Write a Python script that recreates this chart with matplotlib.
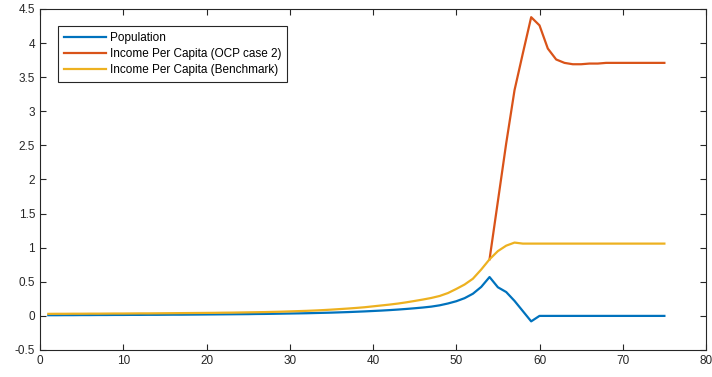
import numpy as np
import matplotlib.pyplot as plt

plt.rcParams['font.family'] = ['Liberation Sans', 'DejaVu Sans']

periods = np.arange(1, 76)

population = [
    0.010, 0.010, 0.011, 0.011, 0.012, 0.012, 0.013, 0.013, 0.014, 0.014,
    0.015, 0.015, 0.016, 0.016, 0.017, 0.018, 0.018, 0.019, 0.020, 0.021,
    0.022, 0.023, 0.024, 0.025, 0.026, 0.028, 0.029, 0.031, 0.033, 0.035,
    0.037, 0.039, 0.042, 0.045, 0.048, 0.052, 0.056, 0.061, 0.066, 0.072,
    0.078, 0.085, 0.093, 0.102, 0.112, 0.123, 0.136, 0.155, 0.182, 0.215,
    0.260, 0.325, 0.425, 0.570, 0.420, 0.350, 0.220, 0.070, -0.080, 0.000,
    0.000, 0.000, 0.000, 0.000, 0.000, 0.000, 0.000, 0.000, 0.000, 0.000,
    0.000, 0.000, 0.000, 0.000, 0.000,
]

# OCP case only departs from the benchmark from period 54 on
ocp_periods = np.arange(54, 76)
income_ocp = [
    0.83, 1.68, 2.53, 3.31, 3.85, 4.38, 4.26, 3.92, 3.76, 3.71,
    3.69, 3.69, 3.70, 3.70, 3.71, 3.71, 3.71, 3.71, 3.71, 3.71,
    3.71, 3.71,
]

income_bench = [
    0.030, 0.031, 0.031, 0.032, 0.032, 0.033, 0.033, 0.034, 0.035, 0.035,
    0.036, 0.037, 0.037, 0.038, 0.039, 0.040, 0.041, 0.042, 0.043, 0.044,
    0.045, 0.047, 0.048, 0.050, 0.052, 0.054, 0.056, 0.059, 0.062, 0.066,
    0.070, 0.074, 0.079, 0.085, 0.092, 0.100, 0.108, 0.117, 0.127, 0.140,
    0.153, 0.166, 0.181, 0.199, 0.219, 0.240, 0.263, 0.292, 0.335, 0.395,
    0.460, 0.545, 0.680, 0.830, 0.950, 1.030, 1.075, 1.060, 1.060, 1.060,
    1.060, 1.060, 1.060, 1.060, 1.060, 1.060, 1.060, 1.060, 1.060, 1.060,
    1.060, 1.060, 1.060, 1.060, 1.060,
]

fig = plt.figure(figsize=(7.12, 3.77), dpi=100)
ax = fig.add_axes([40 / 712, 27 / 377, 666 / 712, 341 / 377])

ax.plot(periods, population, color='#0072BD', lw=1.6, label='Population')
ax.plot(ocp_periods, income_ocp, color='#D95319', lw=1.6,
        label='Income Per Capita (OCP case 2)')
ax.plot(periods, income_bench, color='#EDB120', lw=1.6,
        label='Income Per Capita (Benchmark)')

ax.set_xlim(0, 80)
ax.set_ylim(-0.5, 4.5)
ax.set_xticks(np.arange(0, 81, 10))
ax.set_yticks(np.arange(-0.5, 4.51, 0.5))
ax.set_yticklabels(['-0.5', '0', '0.5', '1', '1.5', '2', '2.5', '3', '3.5', '4', '4.5'])
ax.tick_params(direction='in', top=True, right=True, length=4, width=0.8,
               labelsize=8.5, colors='#262626')
for s in ax.spines.values():
    s.set_color('#262626')
    s.set_linewidth(0.8)

leg = ax.legend(loc='upper left', bbox_to_anchor=(0.027, 0.95), borderaxespad=0,
                fancybox=False, framealpha=1, edgecolor='#262626', fontsize=8.5,
                handlelength=3.6, handletextpad=0.3, labelspacing=0.35,
                borderpad=0.5)
leg.get_frame().set_linewidth(0.8)

fig.savefig('out.png', dpi=100)
